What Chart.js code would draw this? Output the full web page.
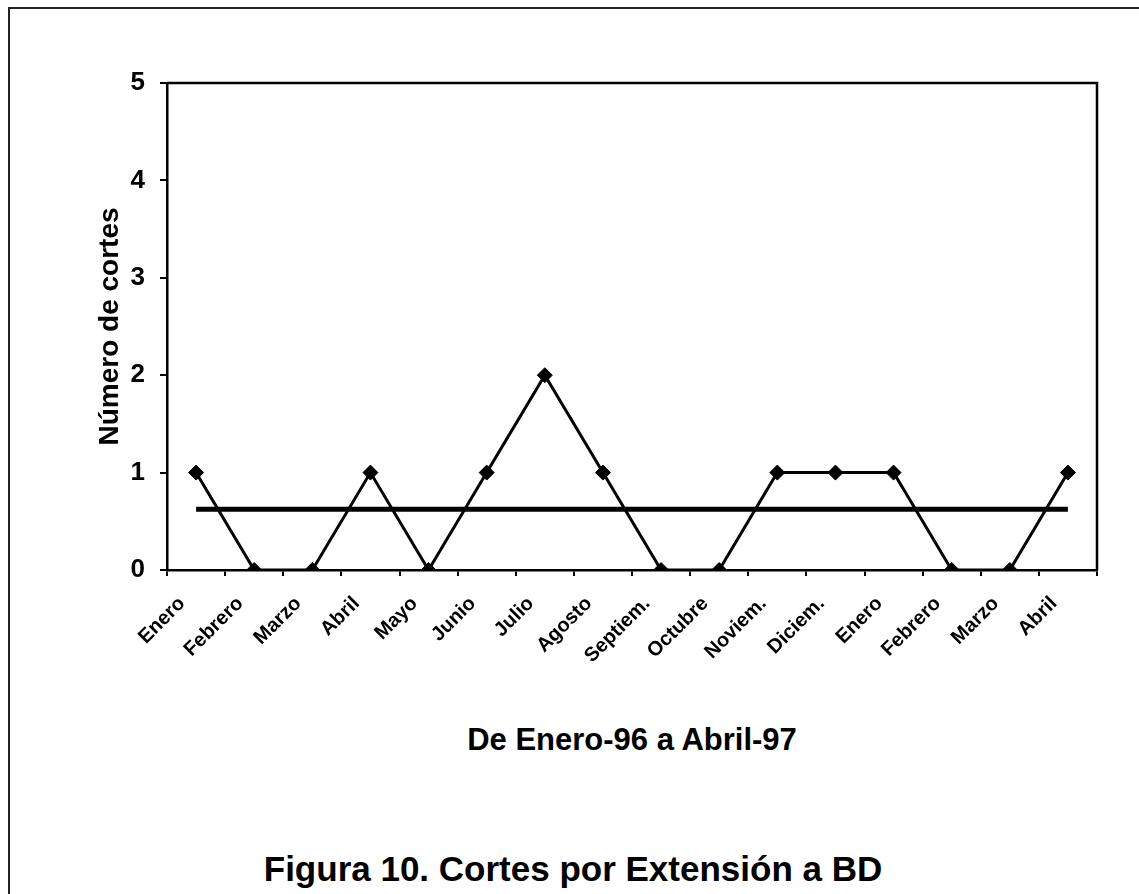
<!DOCTYPE html>
<html>
<head>
<meta charset="utf-8">
<script src="https://cdn.jsdelivr.net/npm/chart.js@4/dist/chart.umd.min.js"></script>
<style>
  html, body { margin: 0; padding: 0; background: #fff; }
  body { width: 1139px; height: 894px; position: relative; overflow: hidden; font-family: "Liberation Sans", Arial, sans-serif; }
  #frame { position: absolute; left: 8px; top: 7px; width: 1140px; height: 900px; border-left: 2px solid #222; border-top: 2px solid #222; box-sizing: border-box; }
  #wrap { position: absolute; left: 0; top: 0; width: 1139px; height: 700px; }
  #sub { position: absolute; left: 0; width: 1264px; top: 721px; text-align: center; font-weight: bold; font-size: 31px; color: #000; line-height: 38px; }
  #title { position: absolute; left: 0; width: 1146px; top: 848px; text-align: center; font-weight: bold; font-size: 35px; color: #000; line-height: 42px; }
</style>
</head>
<body>
<div id="frame"></div>
<div id="wrap"><canvas id="c" width="1139" height="700"></canvas></div>
<div id="sub">De Enero-96 a Abril-97</div>
<div id="title">Figura 10. Cortes por Extensión a BD</div>
<script>
const categories = ["Enero","Febrero","Marzo","Abril","Mayo","Junio","Julio","Agosto","Septiem.","Octubre","Noviem.","Diciem.","Enero","Febrero","Marzo","Abril"];
const cortes = [1,0,0,1,0,1,2,1,0,0,1,1,1,0,0,1];
const promedio = [0.625,0.625,0.625,0.625,0.625,0.625,0.625,0.625,0.625,0.625,0.625,0.625,0.625,0.625,0.625,0.625];
const yTicks = [0,1,2,3,4,5];

const frameBox = {
  id: 'frameBox',
  afterDraw(chart) {
    const a = chart.chartArea, ctx = chart.ctx;
    ctx.save();
    ctx.strokeStyle = '#000';
    ctx.lineWidth = 2.5;
    ctx.beginPath();
    ctx.moveTo(a.left, a.top); ctx.lineTo(a.right, a.top); ctx.lineTo(a.right, a.bottom);
    ctx.stroke();
    ctx.restore();
  }
};

new Chart(document.getElementById('c'), {
  type: 'line',
  data: {
    labels: categories,
    datasets: [
      {
        data: promedio,
        borderColor: '#000',
        borderWidth: 5,
        pointRadius: 0,
        pointHoverRadius: 0,
        fill: false
      },
      {
        data: cortes,
        borderColor: '#000',
        borderWidth: 3,
        pointStyle: 'rectRot',
        pointRadius: 7.5,
        pointBackgroundColor: '#000',
        pointBorderColor: '#000',
        pointBorderWidth: 1,
        fill: false,
        tension: 0
      }
    ]
  },
  options: {
    responsive: false,
    animation: false,
    devicePixelRatio: 1,
    layout: { padding: { left: 0, right: 42, top: 83, bottom: 0 } },
    plugins: { legend: { display: false }, tooltip: { enabled: false }, title: { display: false } },
    scales: {
      x: {
        type: 'category',
        offset: true,
        afterFit(scale) { scale.height = 130; },
        grid: { display: true, drawOnChartArea: false, drawTicks: true, tickLength: 6, color: '#000', lineWidth: 2, offset: true },
        border: { display: true, color: '#000', width: 2.5 },
        ticks: {
          maxRotation: 45, minRotation: 45, autoSkip: false,
          color: '#000', padding: 16, labelOffset: -14,
          font: { family: '"Liberation Sans", Arial, sans-serif', size: 20, weight: 'bold' }
        }
      },
      y: {
        min: 0, max: 5,
        afterFit(scale) { scale.width = 167; },
        afterBuildTicks(scale) { scale.ticks = yTicks.map(v => ({ value: v })); },
        grid: { display: true, drawOnChartArea: false, drawTicks: true, tickLength: 7, color: '#000', lineWidth: 2 },
        border: { display: true, color: '#000', width: 2.5 },
        ticks: {
          color: '#000', padding: 15,
          font: { family: '"Liberation Sans", Arial, sans-serif', size: 26, weight: 'bold' }
        },
        title: {
          display: true, text: 'Número de cortes', color: '#000',
          padding: { top: 93, bottom: 0 },
          font: { family: '"Liberation Sans", Arial, sans-serif', size: 28, weight: 'bold' }
        }
      }
    }
  },
  plugins: [frameBox]
});
</script>
</body>
</html>
